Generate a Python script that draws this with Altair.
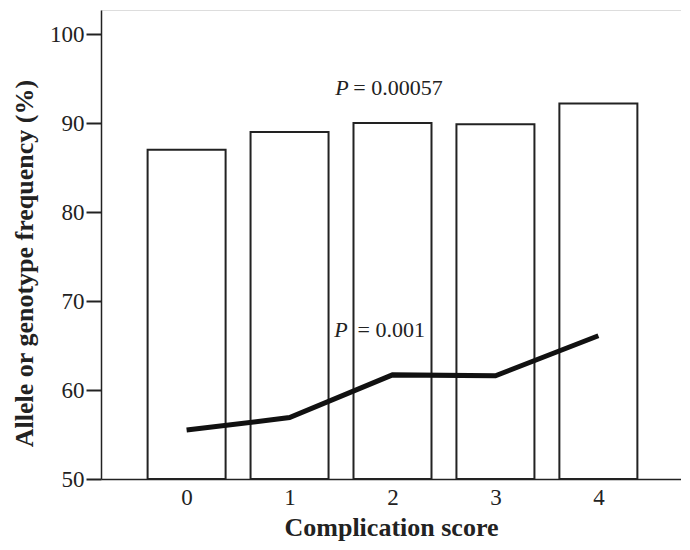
import altair as alt
import pandas as pd

scores = [0, 1, 2, 3, 4]
allele_freq = [87.0, 89.0, 90.0, 89.85, 92.2]
genotype_freq = [55.5, 56.9, 61.7, 61.6, 66.1]

ann_p = ["P", "P"]
ann_rest = ["= 0.00057", "= 0.001"]
ann_x_p = [1.51, 1.50]
ann_x_rest = [1.62, 1.66]
ann_y = [93.9, 66.7]

FONT = "Liberation Serif"

df = pd.DataFrame({"score": scores, "allele": allele_freq, "genotype": genotype_freq})
ann = pd.DataFrame({"p": ann_p, "rest": ann_rest, "xp": ann_x_p, "xr": ann_x_rest, "y": ann_y})

xscale = alt.Scale(domain=[-0.783, 4.754], nice=False, zero=False)
yscale = alt.Scale(domain=[50, 102.7], nice=False, zero=False)

xaxis = alt.Axis(
    title="Complication score", values=scores, format="d", ticks=False, grid=False,
    labelFont=FONT, labelFontSize=23, labelColor="#222", labelPadding=7,
    titleFont=FONT, titleFontSize=26, titleFontWeight="bold", titleColor="#222",
    titlePadding=5, domainColor="#222", domainWidth=1.5, labelFlush=False,
)
yaxis = alt.Axis(
    title="Allele or genotype frequency (%)", values=[50, 60, 70, 80, 90, 100],
    tickSize=15, tickColor="#222", tickWidth=2, grid=False,
    labelFont=FONT, labelFontSize=23, labelColor="#222", labelPadding=2,
    titleFont=FONT, titleFontSize=26, titleFontWeight="bold", titleColor="#222",
    titlePadding=12, titleY=253, domainColor="#222", domainWidth=1.5,
)

bars = alt.Chart(df).mark_bar(
    fill="white", stroke="#222", strokeWidth=2, size=78
).encode(
    x=alt.X("score:Q", scale=xscale, axis=xaxis),
    y=alt.Y("allele:Q", scale=yscale, axis=yaxis),
    y2=alt.datum(50),
)

line = alt.Chart(df).mark_line(color="#111", strokeWidth=5).encode(
    x=alt.X("score:Q", scale=xscale),
    y=alt.Y("genotype:Q", scale=yscale),
)

tp = alt.Chart(ann).mark_text(
    font=FONT, fontSize=22, fontStyle="italic", color="#222", align="center", baseline="middle"
).encode(
    x=alt.X("xp:Q", scale=xscale), y=alt.Y("y:Q", scale=yscale), text="p:N"
)
tr = alt.Chart(ann).mark_text(
    font=FONT, fontSize=22, color="#222", align="left", baseline="middle"
).encode(
    x=alt.X("xr:Q", scale=xscale), y=alt.Y("y:Q", scale=yscale), text="rest:N"
)

chart = alt.layer(bars, line, tp, tr).properties(
    width=580, height=469,
    autosize=alt.AutoSizeParams(type="none"),
    padding={"left": 93, "top": 2, "right": 0, "bottom": 70},
).configure_view(stroke=None).configure(background="white", font=FONT)

chart.save("out.html", embed_options={"renderer": "svg", "actions": False})
